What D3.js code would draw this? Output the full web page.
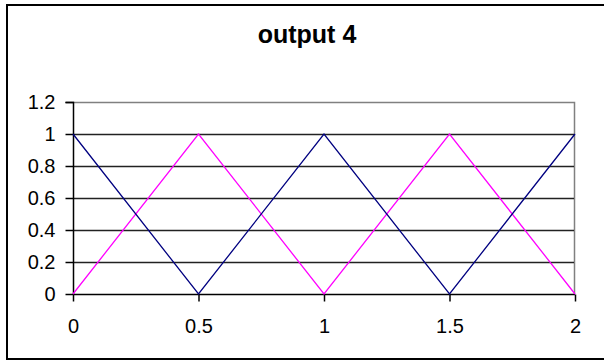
<!DOCTYPE html>
<html>
<head>
<meta charset="utf-8">
<script src="https://cdn.jsdelivr.net/npm/d3@7"></script>
<style>
  html, body { margin: 0; padding: 0; background: #fff; overflow: hidden; }
  svg { display: block; }
  text { font-family: "Liberation Sans", Arial, sans-serif; }
</style>
</head>
<body>
<svg id="chart" width="604" height="362"></svg>
<script>
const title = "output 4";
const xValues = [0, 0.5, 1, 1.5, 2];
const seriesBlue = [1, 0, 1, 0, 1];
const seriesMagenta = [0, 1, 0, 1, 0];
const yTicks = [0, 0.2, 0.4, 0.6, 0.8, 1, 1.2];
const xTicks = [0, 0.5, 1, 1.5, 2];

const svg = d3.select("#chart");
const plot = { left: 73, right: 575, top: 102, bottom: 294 };

const x = d3.scaleLinear().domain([0, 2]).range([plot.left, plot.right]);
const y = d3.scaleLinear().domain([0, 1.2]).range([plot.bottom, plot.top]);

// outer chart frame (runs past the right edge of the canvas)
svg.append("rect")
  .attr("x", 7).attr("y", 5).attr("width", 610).attr("height", 354)
  .attr("fill", "#fff").attr("stroke", "#000").attr("stroke-width", 2);

// title
svg.append("text")
  .attr("x", 307).attr("y", 43)
  .attr("text-anchor", "middle")
  .attr("font-size", 25).attr("font-weight", "bold")
  .text(title);

// plot frame (top/right)
svg.append("path")
  .attr("d", `M${plot.left},${plot.top + 0.5}H${plot.right - 0.5}V${plot.bottom}`)
  .attr("fill", "none").attr("stroke", "#808080").attr("stroke-width", 1.5);

// horizontal gridlines
svg.append("g").selectAll("line")
  .data(yTicks.filter(d => d > 0 && d < 1.2))
  .join("line")
  .attr("x1", plot.left).attr("x2", plot.right - 1)
  .attr("y1", d => Math.round(y(d)) + 0.5).attr("y2", d => Math.round(y(d)) + 0.5)
  .attr("stroke", "#222").attr("stroke-width", 1.3);

// y axis
const yAxis = svg.append("g")
  .attr("transform", `translate(${plot.left + 0.5},0)`)
  .call(d3.axisLeft(y).tickValues(yTicks).tickSize(8).tickPadding(10)
    .tickFormat(d => String(+d.toFixed(1))));
yAxis.select(".domain").attr("stroke", "#000").attr("stroke-width", 1.5)
  .attr("d", `M-8,${plot.top + 0.5}H0V${plot.bottom + 0.5}`);
yAxis.selectAll("line").attr("stroke", "#000").attr("stroke-width", 1.5);
yAxis.selectAll("text").attr("font-size", 20).attr("fill", "#000")
  .attr("font-family", "Liberation Sans, Arial, sans-serif");

// x axis
const xAxis = svg.append("g")
  .attr("transform", `translate(0,${plot.bottom + 0.5})`)
  .call(d3.axisBottom(x).tickValues(xTicks).tickSize(7).tickPadding(17)
    .tickFormat(d => String(d)));
xAxis.select(".domain").attr("stroke", "#000").attr("stroke-width", 1.5)
  .attr("d", `M${plot.left},0H${plot.right}`);
xAxis.selectAll("line").attr("stroke", "#000").attr("stroke-width", 1.5);
xAxis.selectAll("text").attr("font-size", 20).attr("fill", "#000")
  .attr("font-family", "Liberation Sans, Arial, sans-serif");

// series lines
const line = d3.line().x(d => x(d[0])).y(d => y(d[1]));
svg.append("path")
  .datum(xValues.map((v, i) => [v, seriesMagenta[i]]))
  .attr("d", line).attr("fill", "none").attr("stroke", "#FF00FF").attr("stroke-width", 1.3);
svg.append("path")
  .datum(xValues.map((v, i) => [v, seriesBlue[i]]))
  .attr("d", line).attr("fill", "none").attr("stroke", "#000080").attr("stroke-width", 1.3);
</script>
</body>
</html>
